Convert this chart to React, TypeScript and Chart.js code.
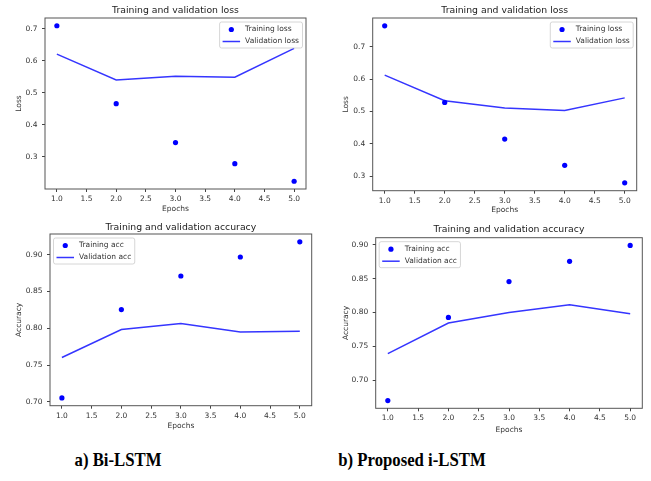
import React, { useEffect, useRef } from "react";
import { Chart, registerables } from "chart.js";

Chart.register(...registerables);

// ---------- data ----------
const epochs = [1, 2, 3, 4, 5];
const xTicks = [1.0, 1.5, 2.0, 2.5, 3.0, 3.5, 4.0, 4.5, 5.0];

const biLossTrain = [0.71, 0.466, 0.344, 0.278, 0.223];
const biLossVal = [0.621, 0.54, 0.552, 0.549, 0.639];
const iLossTrain = [0.764, 0.528, 0.415, 0.334, 0.28];
const iLossVal = [0.612, 0.533, 0.511, 0.503, 0.542];

const biAccTrain = [0.7055, 0.8254, 0.871, 0.8968, 0.9174];
const biAccVal = [0.7604, 0.7984, 0.8066, 0.7948, 0.796];
const iAccTrain = [0.6697, 0.7926, 0.8456, 0.8756, 0.899];
const iAccVal = [0.739, 0.7844, 0.8, 0.8113, 0.798];

const lossTicks = [0.3, 0.4, 0.5, 0.6, 0.7];
const accTicks = [0.7, 0.75, 0.8, 0.85, 0.9];

const captionA = "a) Bi-LSTM";
const captionB = "b) Proposed i-LSTM";

// ---------- styles ----------
const FONT = "'DejaVu Sans', sans-serif";
const TITLE_SIZE = 9.3;
const SMALL = 7.5;
const BLUE = "#0000ff";
const LINE_BLUE = "#3535ff";
const TEXT = "#333333";

const framePlugin = {
  id: "mplFrame",
  afterDatasetsDraw(chart: any) {
    const { ctx, chartArea: a } = chart;
    ctx.save();
    ctx.strokeStyle = "#555555";
    ctx.lineWidth = 1;
    ctx.strokeRect(a.left, a.top, a.right - a.left, a.bottom - a.top);
    ctx.restore();
  },
};

const legendPlugin = {
  id: "mplLegend",
  afterDraw(chart: any, _args: any, opts: any) {
    const { ctx, chartArea: a } = chart;
    const ds = chart.data.datasets;
    ctx.save();
    ctx.font = `${SMALL}px ${FONT}`;
    const tw = Math.max(...ds.map((d: any) => ctx.measureText(d.label).width));
    const w = 25.5 + tw + 3.5;
    const h = 26;
    const x = opts.corner === "left" ? a.left + 3.5 : a.right - 3.5 - w;
    const y = a.top + 4;
    ctx.beginPath();
    if ((ctx as any).roundRect) (ctx as any).roundRect(x, y, w, h, 2);
    else ctx.rect(x, y, w, h);
    ctx.fillStyle = "rgba(255,255,255,0.85)";
    ctx.fill();
    ctx.strokeStyle = "#cccccc";
    ctx.lineWidth = 0.8;
    ctx.stroke();
    ds.forEach((d: any, i: number) => {
      const cy = y + 7.5 + i * 12;
      if (d.showLine === false) {
        ctx.beginPath();
        ctx.arc(x + 11.75, cy, 2.6, 0, Math.PI * 2);
        ctx.fillStyle = d.pointBackgroundColor;
        ctx.fill();
      } else {
        ctx.beginPath();
        ctx.moveTo(x + 3, cy);
        ctx.lineTo(x + 20.5, cy);
        ctx.strokeStyle = d.borderColor;
        ctx.lineWidth = d.borderWidth;
        ctx.stroke();
      }
      ctx.fillStyle = TEXT;
      ctx.textBaseline = "middle";
      ctx.textAlign = "left";
      ctx.fillText(d.label, x + 25.5, cy);
    });
    ctx.restore();
  },
};

type PanelProps = {
  left: number;
  top: number;
  w: number;
  h: number;
  cl: number;
  cr: number;
  ct: number;
  cb: number;
  titleCy: number;
  ylabelCx: number;
  xlabelCy: number;
  title: string;
  ylabel: string;
  trainLabel: string;
  valLabel: string;
  train: number[];
  val: number[];
  yTicks: number[];
  decimals: number;
  corner: "left" | "right";
};

function Panel(p: PanelProps) {
  const ref = useRef<HTMLCanvasElement>(null);
  useEffect(() => {
    const all = [...p.train, ...p.val];
    const lo = Math.min(...all);
    const hi = Math.max(...all);
    const m = (hi - lo) * 0.05;
    const lh = TITLE_SIZE * 1.2;
    const tPadTop = p.titleCy - lh / 2;
    const tPadBottom = p.ct - tPadTop - lh;
    const slh = SMALL * 1.2;
    const chart = new Chart(ref.current as HTMLCanvasElement, {
      type: "line",
      data: {
        datasets: [
          {
            label: p.trainLabel,
            data: epochs.map((x, i) => ({ x, y: p.train[i] })),
            showLine: false,
            pointRadius: 2.6,
            pointBorderWidth: 0,
            pointBackgroundColor: BLUE,
            backgroundColor: BLUE,
            borderColor: BLUE,
          } as any,
          {
            label: p.valLabel,
            data: epochs.map((x, i) => ({ x, y: p.val[i] })),
            borderColor: LINE_BLUE,
            backgroundColor: LINE_BLUE,
            borderWidth: 1.5,
            pointRadius: 0,
            tension: 0,
            fill: false,
          } as any,
        ],
      },
      options: {
        animation: false,
        responsive: false,
        devicePixelRatio: 1,
        layout: { padding: { left: 0, top: 0, right: p.w - p.cr, bottom: 0 } },
        plugins: {
          legend: { display: false },
          tooltip: { enabled: false },
          title: {
            display: true,
            text: p.title,
            fullSize: false,
            color: "#222222",
            font: { family: FONT, size: TITLE_SIZE, weight: "normal" as any },
            padding: { top: tPadTop, bottom: tPadBottom },
          },
          mplLegend: { corner: p.corner },
        } as any,
        scales: {
          x: {
            type: "linear",
            min: 0.8,
            max: 5.2,
            afterBuildTicks: (s: any) => {
              s.ticks = xTicks.map((v) => ({ value: v }));
            },
            afterFit: (s: any) => {
              s.height = p.h - p.cb;
            },
            ticks: {
              autoSkip: false,
              maxRotation: 0,
              padding: 2.5,
              color: TEXT,
              font: { family: FONT, size: SMALL },
              callback: (v: any) => Number(v).toFixed(1),
            },
            grid: {
              drawOnChartArea: false,
              drawTicks: true,
              tickLength: 3,
              color: "#444444",
            },
            border: { display: false },
            title: {
              display: true,
              text: "Epochs",
              color: TEXT,
              font: { family: FONT, size: SMALL },
              padding: { top: 0, bottom: p.h - p.xlabelCy - slh / 2 },
            },
          },
          y: {
            type: "linear",
            min: lo - m,
            max: hi + m,
            afterBuildTicks: (s: any) => {
              s.ticks = p.yTicks.map((v) => ({ value: v }));
            },
            afterFit: (s: any) => {
              s.width = p.cl;
            },
            ticks: {
              autoSkip: false,
              padding: 4.5,
              color: TEXT,
              font: { family: FONT, size: SMALL },
              callback: (v: any) => Number(v).toFixed(p.decimals),
            },
            grid: {
              drawOnChartArea: false,
              drawTicks: true,
              tickLength: 3,
              color: "#444444",
            },
            border: { display: false },
            title: {
              display: true,
              text: p.ylabel,
              color: TEXT,
              font: { family: FONT, size: SMALL },
              padding: { top: p.ylabelCx - slh / 2, bottom: 0 },
            },
          },
        },
      } as any,
      plugins: [framePlugin, legendPlugin],
    });
    return () => chart.destroy();
  }, []);
  return (
    <div
      style={{
        position: "absolute",
        left: p.left,
        top: p.top,
        width: p.w,
        height: p.h,
      }}
    >
      <canvas ref={ref} width={p.w} height={p.h} style={{ display: "block" }} />
    </div>
  );
}

const captionStyle: React.CSSProperties = {
  position: "absolute",
  top: 450,
  fontFamily: "'Liberation Serif', 'Times New Roman', serif",
  fontWeight: "bold",
  fontSize: 19,
  lineHeight: "19px",
  whiteSpace: "nowrap",
  color: "#000",
  transform: "translateX(-50%) scaleX(0.88)",
};

export default function App() {
  return (
    <div
      style={{
        position: "absolute",
        left: 0,
        top: 0,
        width: 651,
        height: 481,
        background: "#fff",
        overflow: "hidden",
      }}
    >
      <Panel
        left={0}
        top={0}
        w={325}
        h={215}
        cl={45}
        cr={306}
        ct={18}
        cb={189}
        titleCy={10.5}
        ylabelCx={19.5}
        xlabelCy={209}
        title="Training and validation loss"
        ylabel="Loss"
        trainLabel="Training loss"
        valLabel="Validation loss"
        train={biLossTrain}
        val={biLossVal}
        yTicks={lossTicks}
        decimals={1}
        corner="right"
      />
      <Panel
        left={325}
        top={0}
        w={326}
        h={215}
        cl={47.7}
        cr={311.7}
        ct={18}
        cb={190.7}
        titleCy={10.5}
        ylabelCx={21}
        xlabelCy={210.3}
        title="Training and validation loss"
        ylabel="Loss"
        trainLabel="Training loss"
        valLabel="Validation loss"
        train={iLossTrain}
        val={iLossVal}
        yTicks={lossTicks}
        decimals={1}
        corner="right"
      />
      <Panel
        left={0}
        top={215}
        w={325}
        h={225}
        cl={50}
        cr={311.7}
        ct={19}
        cb={190.7}
        titleCy={12.7}
        ylabelCx={19}
        xlabelCy={210.7}
        title="Training and validation accuracy"
        ylabel="Accuracy"
        trainLabel="Training acc"
        valLabel="Validation acc"
        train={biAccTrain}
        val={biAccVal}
        yTicks={accTicks}
        decimals={2}
        corner="left"
      />
      <Panel
        left={325}
        top={215}
        w={326}
        h={225}
        cl={50.7}
        cr={317.3}
        ct={22.7}
        cb={193.3}
        titleCy={15}
        ylabelCx={21}
        xlabelCy={215}
        title="Training and validation accuracy"
        ylabel="Accuracy"
        trainLabel="Training acc"
        valLabel="Validation acc"
        train={iAccTrain}
        val={iAccVal}
        yTicks={accTicks}
        decimals={2}
        corner="left"
      />
      <div style={{ ...captionStyle, left: 118 }}>{captionA}</div>
      <div style={{ ...captionStyle, left: 412 }}>{captionB}</div>
    </div>
  );
}
